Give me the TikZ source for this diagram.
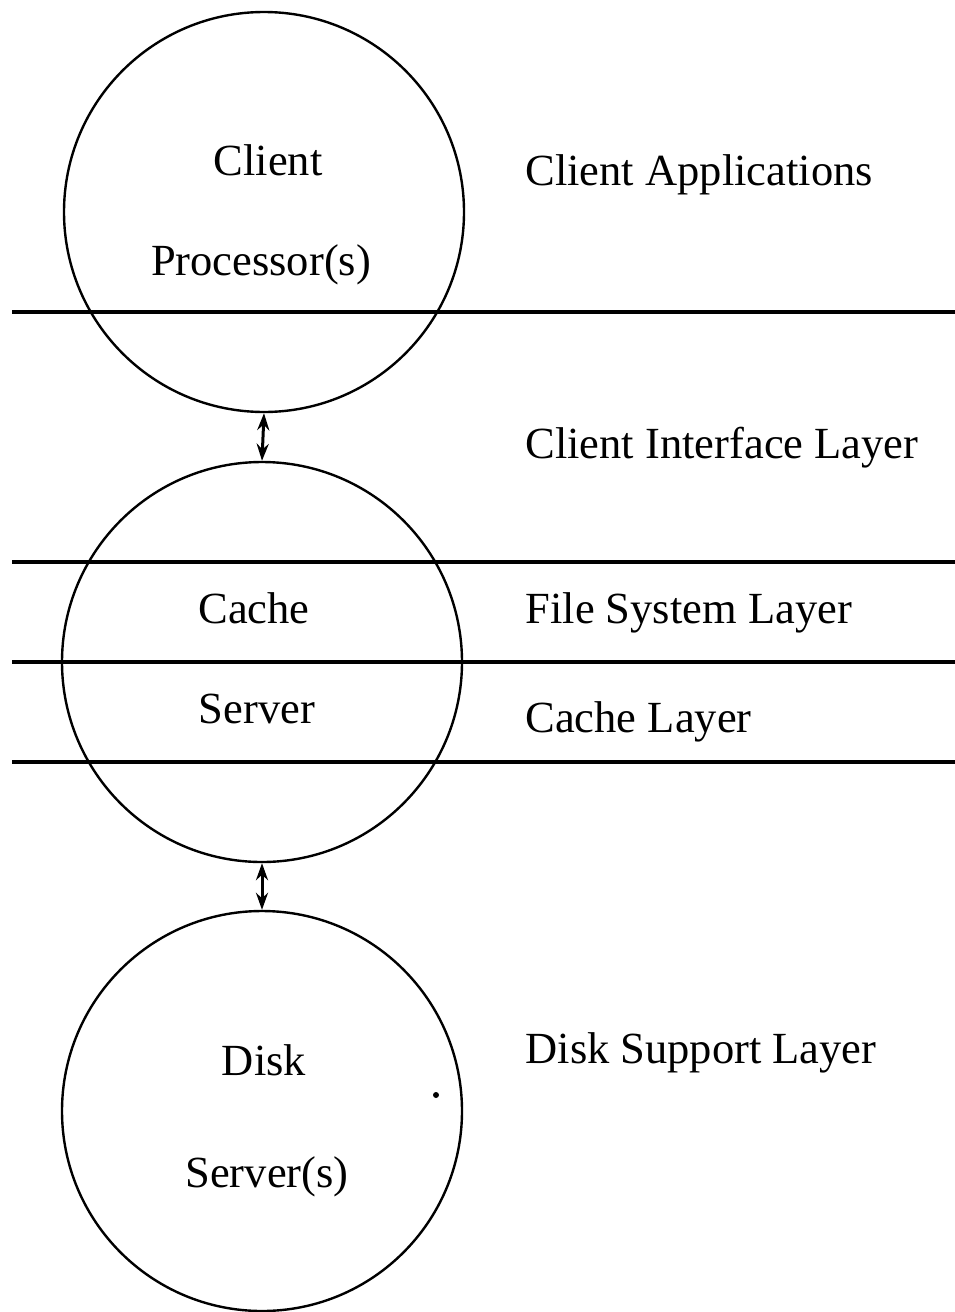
\documentclass[tikz,border=0pt]{standalone}
\usepackage{fontspec}
\setmainfont{Liberation Serif}
\usetikzlibrary{arrows.meta}
\begin{document}
\begin{tikzpicture}[x=1pt,y=-1pt,
  proc/.style={circle,draw,line width=2.4pt,minimum size=400pt,inner sep=0pt},
  intext/.style={anchor=base,font=\fontsize{44.5}{50}\selectfont},
  layertext/.style={anchor=base west,font=\fontsize{44.5}{50}\selectfont},
  sep/.style={line width=3.8pt},
  link/.style={line width=3pt,{Stealth[length=17pt,width=12pt]}-{Stealth[length=17pt,width=12pt]}}]
\useasboundingbox (0,0) rectangle (955,1312);

% processing units
\node[proc] (client) at (264,212) {};
\node[proc] (cache)  at (262,662) {};
\node[proc] (disk)   at (262,1111) {};

% layer boundaries
\draw[sep] (12,312) -- (955,312);
\draw[sep] (12,562) -- (955,562);
\draw[sep] (12,662) -- (955,662);
\draw[sep] (12,762) -- (955,762);

% links between units
\draw[link] (client.south) -- (cache.north);
\draw[link] (cache.south) -- (disk.north);

% unit names
\node[intext] (t1) at (268,175) {Client};
\node[intext] (t2) at (261,275) {Processor(s)};
\node[intext] (t3) at (254,623) {Cache};
\node[intext] (t4) at (257,723) {Server};
\node[intext] (t5) at (264,1075) {Disk};
\node[intext] (t6) at (267,1187) {Server(s)};

% layer names
\node[layertext] (l1) at (522,185) {Client Applications};
\node[layertext] (l2) at (522,458) {Client Interface Layer};
\node[layertext] (l3) at (522,623) {File System Layer};
\node[layertext] (l4) at (522,732) {Cache Layer};
\node[layertext] (l5) at (522,1063) {Disk Support Layer};

% stray mark
\fill (436,1095) circle (3pt);
\end{tikzpicture}
\end{document}
